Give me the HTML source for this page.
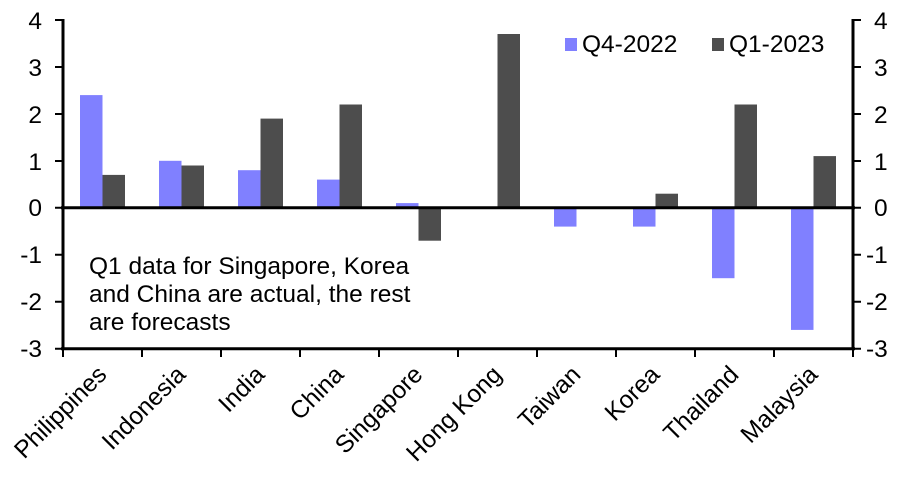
<!DOCTYPE html>
<html><head><meta charset="utf-8"><style>body{margin:0;background:#fff}svg{display:block}</style></head><body>
<svg width="909" height="493" xmlns="http://www.w3.org/2000/svg" font-family="Liberation Sans, Arial, sans-serif" font-size="24.5" fill="#000">
<g>
<rect x="80" y="95.1" width="22.5" height="112.7" fill="#8080ff"/>
<rect x="102.5" y="174.9" width="22.5" height="32.9" fill="#4d4d4d"/>
<rect x="159" y="160.8" width="22.5" height="47" fill="#8080ff"/>
<rect x="181.5" y="165.5" width="22.5" height="42.3" fill="#4d4d4d"/>
<rect x="238" y="170.2" width="22.5" height="37.6" fill="#8080ff"/>
<rect x="260.5" y="118.6" width="22.5" height="89.2" fill="#4d4d4d"/>
<rect x="317" y="179.6" width="22.5" height="28.2" fill="#8080ff"/>
<rect x="339.5" y="104.5" width="22.5" height="103.3" fill="#4d4d4d"/>
<rect x="396" y="203.1" width="22.5" height="4.7" fill="#8080ff"/>
<rect x="418.5" y="207.8" width="22.5" height="32.9" fill="#4d4d4d"/>
<rect x="497.5" y="34.0" width="22.5" height="173.8" fill="#4d4d4d"/>
<rect x="554" y="207.8" width="22.5" height="18.8" fill="#8080ff"/>
<rect x="633" y="207.8" width="22.5" height="18.8" fill="#8080ff"/>
<rect x="655.5" y="193.7" width="22.5" height="14.1" fill="#4d4d4d"/>
<rect x="712" y="207.8" width="22.5" height="70.4" fill="#8080ff"/>
<rect x="734.5" y="104.5" width="22.5" height="103.3" fill="#4d4d4d"/>
<rect x="791" y="207.8" width="22.5" height="122.1" fill="#8080ff"/>
<rect x="813.5" y="156.1" width="22.5" height="51.7" fill="#4d4d4d"/>
</g>
<g stroke="#000" stroke-width="3">
<line x1="63" y1="19" x2="63" y2="350"/>
<line x1="853" y1="19" x2="853" y2="350"/>
<line x1="61" y1="207.8" x2="855" y2="207.8"/>
<line x1="61" y1="348.7" x2="855" y2="348.7"/>
</g>
<g stroke="#000" stroke-width="2">
<path d="M55 20H63M55 67H63M55 114H63M55 161H63M55 207.8H63M55 254.8H63M55 301.7H63M55 348.7H63"/>
<path d="M853 20H861M853 67H861M853 114H861M853 161H861M853 207.8H861M853 254.8H861M853 301.7H861M853 348.7H861"/>
<path d="M63 348V357M142 348V357M221 348V357M300 348V357M379 348V357M458 348V357M537 348V357M616 348V357M695 348V357M774 348V357M853 348V357"/>
</g>
<g text-anchor="end">
<text x="42" y="29">4</text><text x="42" y="76">3</text><text x="42" y="123">2</text><text x="42" y="170">1</text><text x="42" y="216">0</text><text x="42" y="263">-1</text><text x="42" y="310">-2</text><text x="42" y="357">-3</text>
</g>
<g text-anchor="start">
<text x="874" y="29">4</text><text x="874" y="76">3</text><text x="874" y="123">2</text><text x="874" y="170">1</text><text x="874" y="216">0</text><text x="866" y="263">-1</text><text x="866" y="310">-2</text><text x="866" y="357">-3</text>
</g>
<g text-anchor="end">
<text transform="translate(108,376) rotate(-45)">Philippines</text>
<text transform="translate(187,376) rotate(-45)">Indonesia</text>
<text transform="translate(266,376) rotate(-45)">India</text>
<text transform="translate(345,376) rotate(-45)">China</text>
<text transform="translate(424,376) rotate(-45)">Singapore</text>
<text transform="translate(503,376) rotate(-45)">Hong Kong</text>
<text transform="translate(582,376) rotate(-45)">Taiwan</text>
<text transform="translate(661,376) rotate(-45)">Korea</text>
<text transform="translate(740,376) rotate(-45)">Thailand</text>
<text transform="translate(819,376) rotate(-45)">Malaysia</text>
</g>
<rect x="565" y="38" width="12" height="13" fill="#8080ff"/>
<text x="582" y="52">Q4-2022</text>
<rect x="712" y="38" width="12" height="13" fill="#4d4d4d"/>
<text x="729" y="52">Q1-2023</text>
<text x="89" y="274">Q1 data for Singapore, Korea</text>
<text x="89" y="302">and China are actual, the rest</text>
<text x="89" y="330">are forecasts</text>
</svg>
</body></html>
